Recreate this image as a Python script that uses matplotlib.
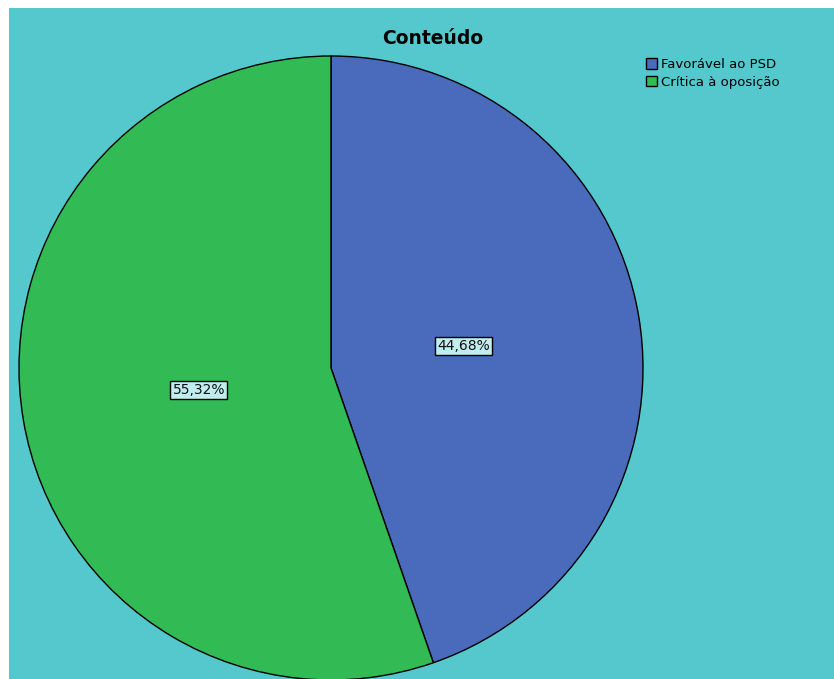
import matplotlib
matplotlib.use("Agg")
import matplotlib.pyplot as plt
from matplotlib.patches import Rectangle

# data
categories = ["Favorável ao PSD", "Crítica à oposição"]
percents = [44.68, 55.32]
colors = ["#4A6BBB", "#32BB55"]
title = "Conteúdo"

W, H = 834, 679
fig = plt.figure(figsize=(W / 100, H / 100), dpi=100, facecolor="white")

# cyan chart background (white margin at left and top)
fig.patches.append(Rectangle((9 / W, 0), 1 - 9 / W, 1 - 8 / H,
                             transform=fig.transFigure, facecolor="#55C8CE",
                             edgecolor="none", zorder=-10))

# pie axes: center (331, 368), radius 312 px
cx, cy, r = 331, 368, 312
ax = fig.add_axes([(cx - r) / W, (H - cy - r) / H, 2 * r / W, 2 * r / H])
ax.set_facecolor("none")
ax.axis("off")

def fmt(p):
    return "{:.2f}%".format(p).replace(".", ",")

wedges, texts, autotexts = ax.pie(
    percents, colors=colors, startangle=90, counterclock=False,
    autopct=fmt, pctdistance=0.43,
    wedgeprops=dict(edgecolor="black", linewidth=1.0))
for t in autotexts:
    t.set_fontsize(10)
    t.set_color("#111111")
    t.set_bbox(dict(boxstyle="square,pad=0.15", facecolor="#C0EEF0",
                    edgecolor="black", linewidth=1.0))
ax.set_xlim(-1, 1)
ax.set_ylim(-1, 1)
ax.set_aspect("equal")

fig.text(433 / W, 1 - 38 / H, title, ha="center", va="center",
         fontsize=13.5, fontweight="bold")

leg = fig.legend(wedges, categories, loc="upper left",
                 bbox_to_anchor=(646 / W, 1 - 58 / H), frameon=False,
                 fontsize=9.5, handlelength=0.85, handleheight=0.85,
                 handletextpad=0.3, labelspacing=0.35, borderpad=0,
                 borderaxespad=0)
for h in leg.legend_handles:
    h.set_linewidth(1.0)

fig.savefig("out.png", dpi=100, facecolor="white")
